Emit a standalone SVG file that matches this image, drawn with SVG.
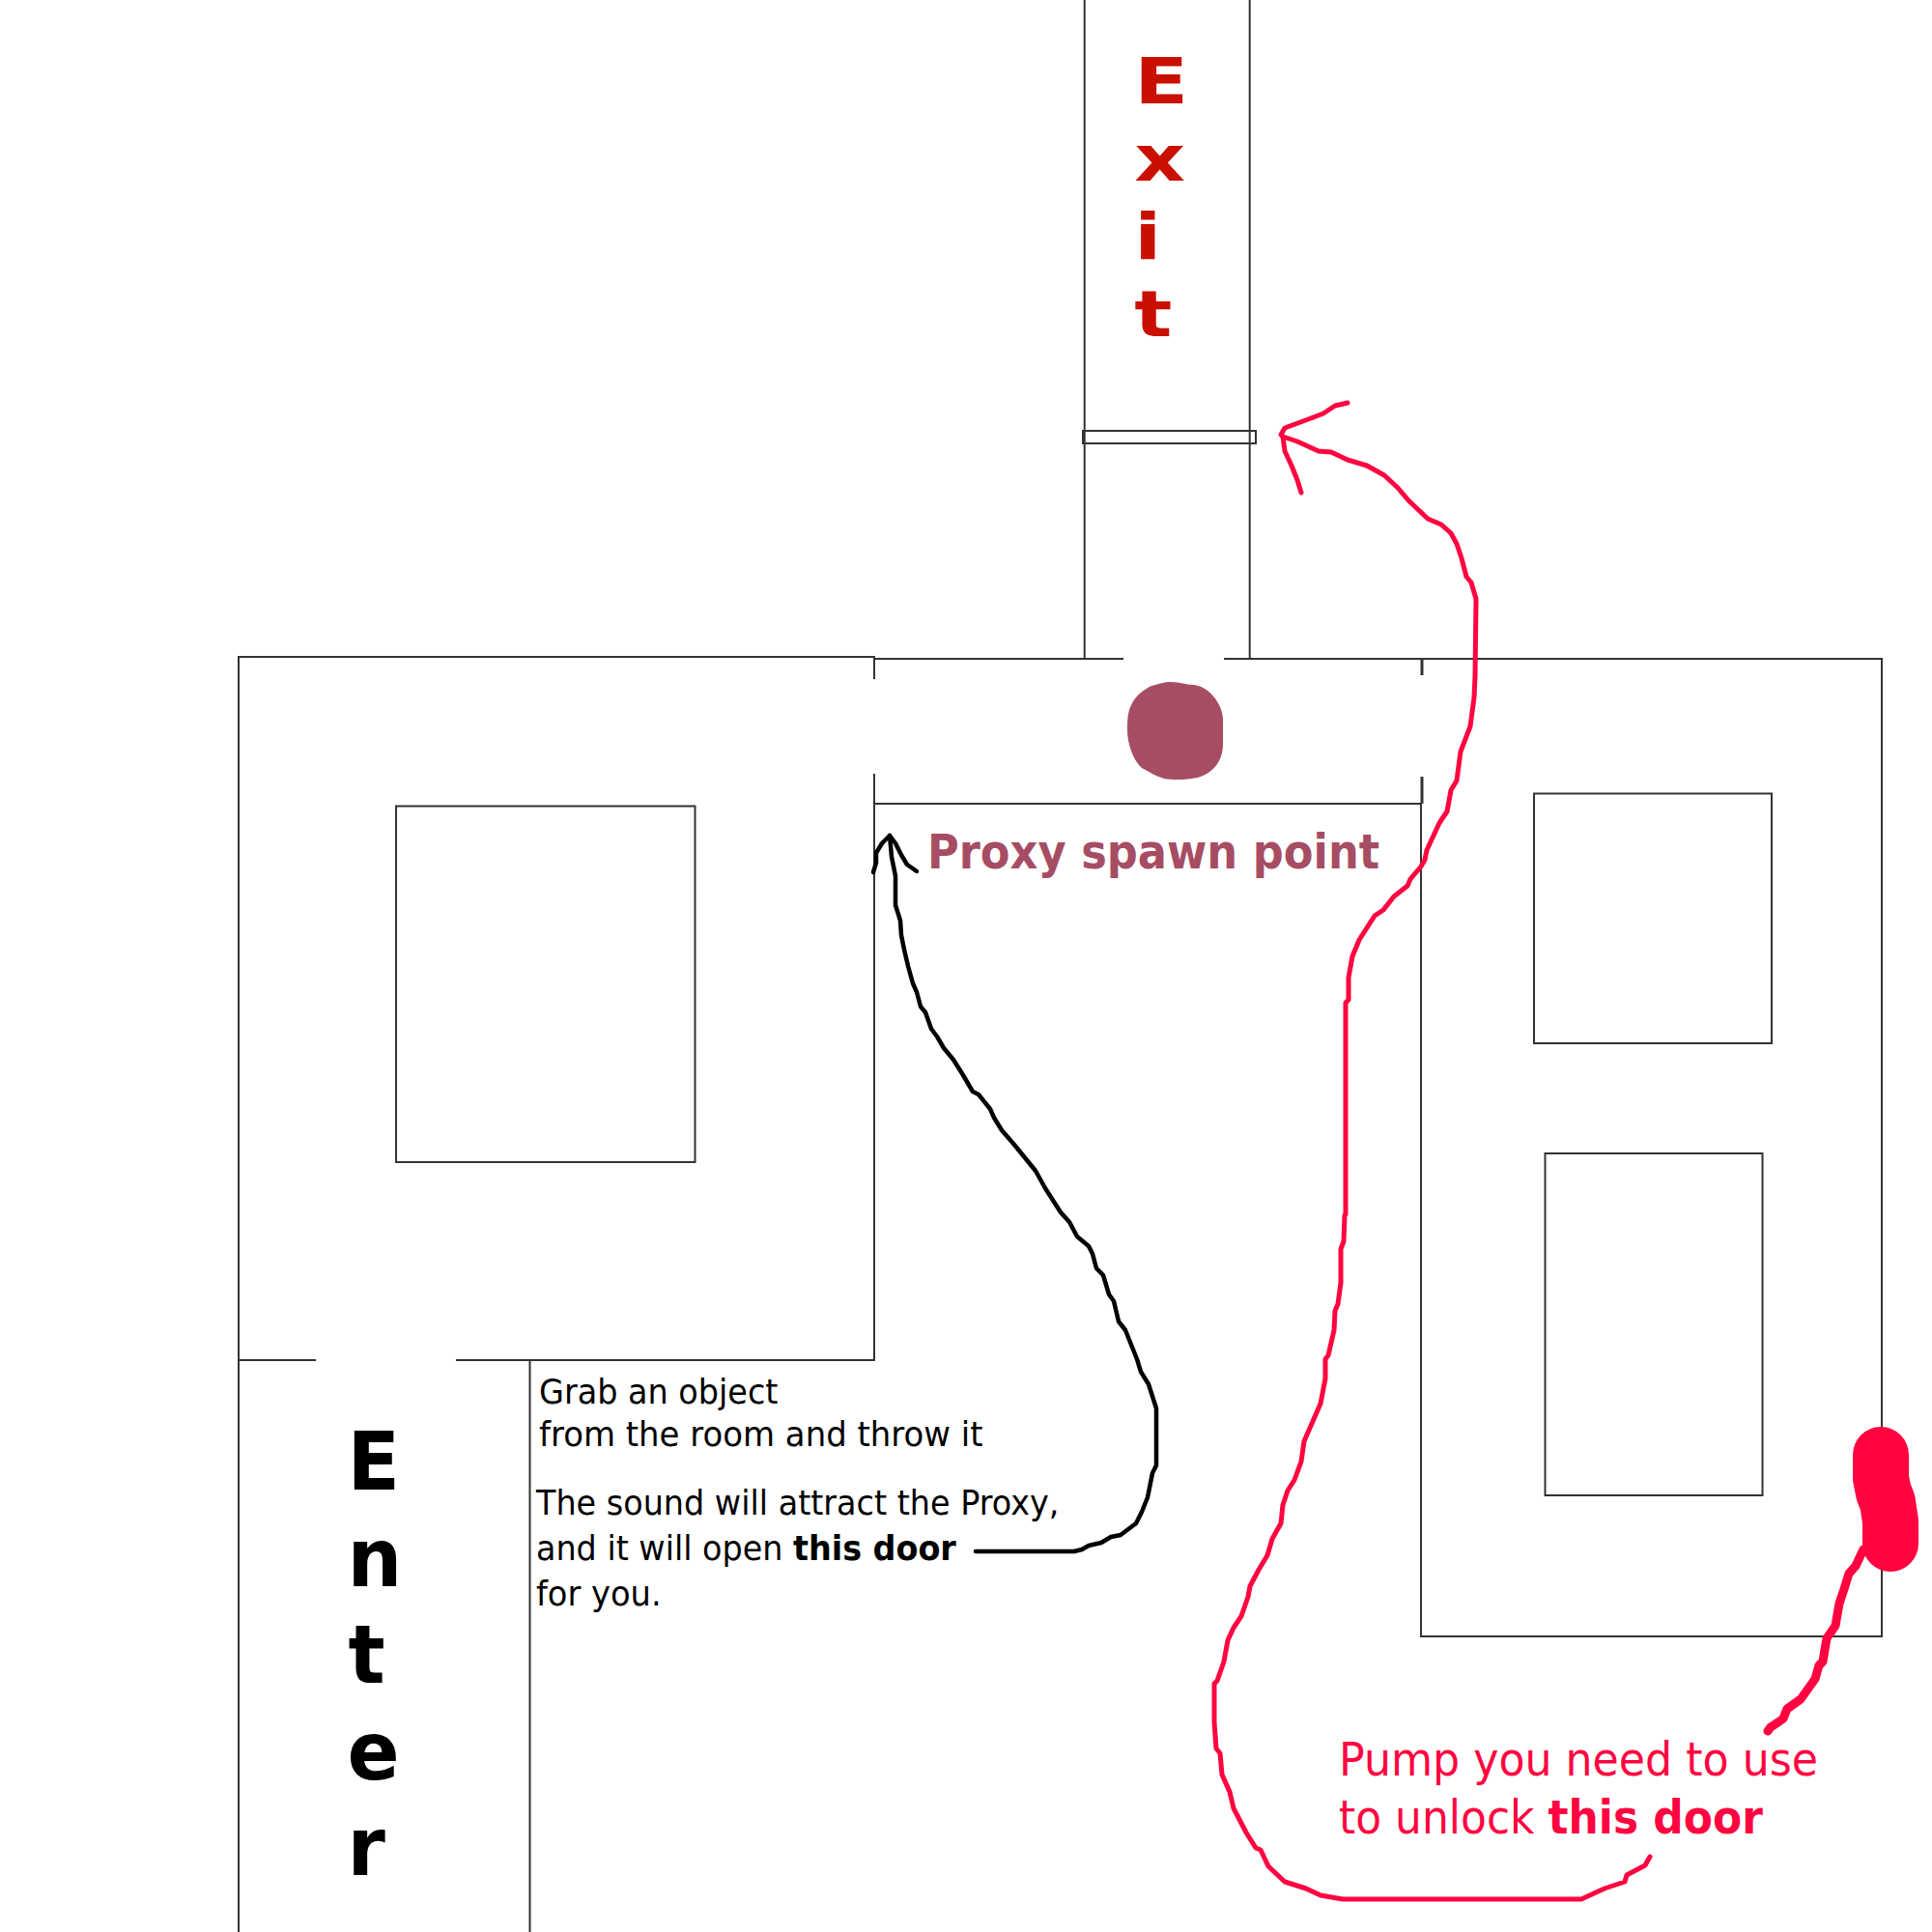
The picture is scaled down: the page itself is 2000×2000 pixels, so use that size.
<svg xmlns="http://www.w3.org/2000/svg" width="2000" height="2000" viewBox="0 0 2000 2000">
<style>
.wall{fill:none;stroke:#333;stroke-width:2}
.tick{fill:none;stroke:#333;stroke-width:3}
.t{font-family:"DejaVu Sans",Verdana,sans-serif;font-size:35px;fill:#000}
.p{font-size:48px;fill:#ff0440}
.b{font-weight:700}
.big{font-family:"DejaVu Sans",Verdana,sans-serif;font-weight:700}
.pen{fill:none;stroke-linecap:round;stroke-linejoin:round}
</style>
<rect width="2000" height="2000" fill="#fff"/>
<g id="walls">
<path class="wall" d="M247 2000V680H905V703M905 801V1408H472M327 1408H247M548.500 1408V2000"/>
<path class="wall" d="M905 682H1163M1267 682H1948V1694H1471V832H905"/>
<path class="wall" d="M1122.700 0V682M1293.700 0V682"/>
<path class="tick" d="M1472 681V699M1472 804V832"/>
</g>
<g id="door"><rect class="wall" x="1121" y="446" width="179" height="13"/></g>
<g id="room-left"><rect class="wall" x="410" y="834.500" width="309.500" height="368.500"/></g>
<g id="room-right-top"><rect class="wall" x="1588" y="821.500" width="246" height="258.500"/></g>
<g id="room-right-bottom"><rect class="wall" x="1599.500" y="1194" width="225" height="354"/></g>
<g id="proxy-spawn">
<path fill="#a64d64" d="M1212 706C1222 706 1228 709 1236 709C1250 710 1266 728 1266 745L1266 770C1266 788 1256 800 1240 805C1230 807 1216 808 1205 806C1195 803 1188 798 1182 795C1174 788 1167 772 1167 755C1167 742 1168 735 1172 728C1176 720 1184 714 1192 710C1200 708 1205 706 1212 706Z"/>
<text id="proxy-label" class="big" transform="translate(960 899) scale(.895 1)" font-size="50" fill="#a64d64">Proxy spawn point</text>
</g>
<g id="exit"><text class="big" fill="#c91000" font-size="66" transform="scale(1.24 1)"><tspan x="947" y="107">E</tspan><tspan x="947" y="187">x</tspan><tspan x="947" y="268">i</tspan><tspan x="947" y="348">t</tspan></text></g>
<g id="enter"><text class="big" fill="#000" font-size="84" transform="scale(.95 1)"><tspan x="378.500" y="1542">E</tspan><tspan x="378.500" y="1642">n</tspan><tspan x="379.500" y="1742">t</tspan><tspan x="378.500" y="1842">e</tspan><tspan x="378.500" y="1941">r</tspan></text></g>
<g id="instructions">
<text class="t" transform="translate(558 1453) scale(.956 1)">Grab an object</text>
<text class="t" transform="translate(558 1497) scale(.97 1)">from the room and throw it</text>
<text class="t" transform="translate(555 1568) scale(.955 1)">The sound will attract the Proxy,</text>
<text class="t" transform="translate(555 1615) scale(.954 1)">and it will open <tspan class="b">this door</tspan></text>
<text class="t" transform="translate(555 1662) scale(.963 1)">for you.</text>
</g>
<g id="pump">
<path class="pen" stroke="#ff0440" stroke-width="58" d="M1947 1506V1530L1950 1545L1954 1555L1957 1575V1598"/>
<text class="t p" transform="translate(1386 1838) scale(.922 1)">Pump you need to use</text>
<text class="t p" transform="translate(1386 1898) scale(.916 1)">to unlock <tspan class="b">this door</tspan></text>
</g>
<g id="connectors">
<path class="pen" stroke="#000" stroke-width="4.500" d="M1010 1606H1112L1120 1604L1127 1600L1140 1597L1150 1591L1160 1589L1176 1577L1182 1565L1188 1550L1193 1525L1197 1517V1458L1189 1433L1181 1420L1177 1407L1165 1377L1158 1368L1153 1347L1148 1340L1142 1320L1135 1313L1131 1298L1127 1290L1115 1280L1107 1265L1098 1255L1082 1230L1072 1212L1050 1185L1037 1170L1029 1157L1025 1148L1013 1133L1007 1130L997 1113L987 1097L977 1085L970 1073L964 1065L958 1048L953 1042L949 1027L945 1018L940 1000L936 983L933 968L932 953L927 937V907L923 887L921 865"/>
<path class="pen" stroke="#000" stroke-width="4.500" d="M904 903L907 893V883L913 873L921 865L927 873L933 885L939 895L949 902"/>
<path class="pen" stroke="#ff0440" stroke-width="5" d="M1708 1922L1703 1931L1684 1941L1682 1948L1661 1955L1637 1966H1390L1367 1962L1352 1955L1330 1948L1313 1932L1305 1915L1300 1913L1290 1897L1277 1872L1273 1855L1265 1837L1263 1815L1259 1810L1257 1783V1743L1260 1740L1267 1720L1271 1698L1277 1685L1285 1673L1292 1653L1294 1642L1303 1625L1312 1610L1317 1593L1326 1577L1328 1558L1333 1543L1340 1532L1347 1513L1350 1492L1367 1453L1372 1427V1407L1375 1403L1381 1377L1382 1357L1385 1350L1388 1328V1293L1391 1285L1392 1258L1393 1257V1038L1396 1035V1012L1400 990L1407 973L1423 948L1432 942L1443 928L1457 917L1460 910L1471 897L1475 890L1477 880L1490 852L1498 840L1502 818L1508 808L1512 778L1517 765L1522 752L1526 722L1527 700L1528 620L1523 603L1518 597L1513 578L1508 563L1502 552L1492 543L1478 537L1458 518L1447 505L1433 492L1415 482L1395 476L1378 468L1365 467L1343 457L1328 452"/>
<path class="pen" stroke="#ff0440" stroke-width="5" d="M1395 417L1382 420L1370 428L1357 433L1330 443L1326 450L1328 452L1330 467L1337 482L1343 497L1347 510"/>
<path class="pen" stroke="#ff0440" stroke-width="9" d="M1929 1604L1921 1621L1914 1629L1909 1645L1904 1660L1900 1683L1891 1696L1887 1720L1883 1724L1879 1738L1864 1759L1850 1769L1846 1779L1842 1782L1833 1788L1830 1792"/>
</g>
</svg>
